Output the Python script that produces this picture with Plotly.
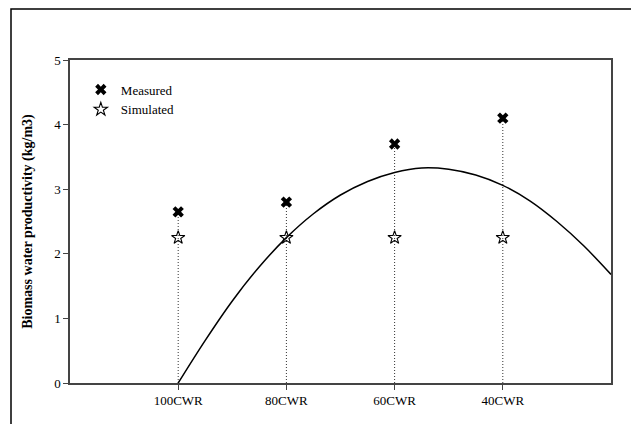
import plotly.graph_objects as go

# Irrigation treatments (share of crop water requirement)
categories = ["100CWR", "80CWR", "60CWR", "40CWR"]
positions = [1, 2, 3, 4]

# Biomass water productivity, kg/m3
measured = [2.65, 2.8, 3.7, 4.1]
simulated = [2.25, 2.25, 2.25, 2.25]

# Trend curve across treatments
curve_x = [1.0, 1.25, 1.5, 1.75, 2.0, 2.25, 2.5, 2.75, 3.0, 3.25, 3.5,
           3.75, 4.0, 4.25, 4.5, 4.75, 5.0]
curve_y = [0.0, 0.66, 1.27, 1.80, 2.25, 2.62, 2.91, 3.12, 3.26, 3.33, 3.31,
           3.22, 3.06, 2.82, 2.50, 2.12, 1.68]

serif = "Liberation Serif, Times New Roman, serif"

fig = go.Figure()

# Dotted drop lines from the axis to each measured value
for xp, m in zip(positions, measured):
    fig.add_trace(go.Scatter(
        x=[xp, xp], y=[0, m], mode="lines",
        line=dict(color="#333", width=1, dash="1px,2px"),
        showlegend=False, hoverinfo="skip",
    ))

fig.add_trace(go.Scatter(
    x=curve_x, y=curve_y, mode="lines", line_shape="spline",
    line=dict(color="black", width=1.5), showlegend=False,
))

fig.add_trace(go.Scatter(
    x=positions, y=measured, mode="markers", name="Measured",
    marker=dict(symbol="x", size=10, color="black", line=dict(width=0)),
))
fig.add_trace(go.Scatter(
    x=positions, y=simulated, mode="markers", name="Simulated",
    marker=dict(symbol="star-open", size=10, color="black", line=dict(width=1.1)),
))

# Outer frame around the whole figure
fig.add_shape(type="rect", xref="paper", yref="paper",
              x0=(11 - 70) / 541, x1=(660 - 70) / 541,
              y0=(383 - 440) / 323, y1=(383 - 9) / 323,
              line=dict(color="black", width=1.5))

fig.update_layout(
    width=631, height=424,
    margin=dict(l=70, r=20, t=60, b=41),
    paper_bgcolor="white", plot_bgcolor="white",
    font=dict(family=serif, color="black", size=13),
    legend=dict(x=0.02, y=0.955, xanchor="left", yanchor="top",
                bgcolor="rgba(0,0,0,0)", font=dict(size=13),
                itemwidth=30, tracegroupgap=0),
    xaxis=dict(range=[0, 5], tickvals=positions, ticktext=categories,
               showgrid=False, zeroline=False, showline=True, mirror=True,
               linecolor="#444", linewidth=1.5, ticks="outside", ticklen=5,
               tickcolor="#444", tickfont=dict(size=13)),
    yaxis=dict(range=[0, 5], dtick=1, showgrid=False, zeroline=False,
               showline=True, mirror=True, linecolor="#444", linewidth=1.5,
               ticks="outside", ticklen=5, tickcolor="#444",
               tickfont=dict(size=13),
               title=dict(text="<b>Biomass water productivity (kg/m3)</b>",
                          font=dict(size=14), standoff=18)),
)

fig.write_html("out.html")
